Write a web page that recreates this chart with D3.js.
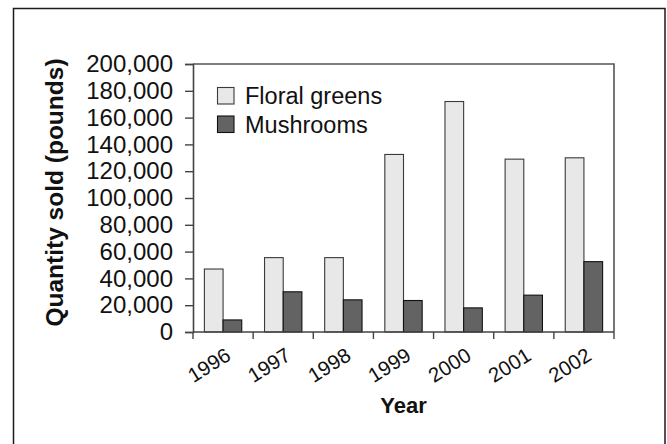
<!DOCTYPE html>
<html>
<head>
<meta charset="utf-8">
<script src="https://cdn.jsdelivr.net/npm/d3@7"></script>
<style>
  html, body { margin: 0; padding: 0; background: #fff; }
  svg { display: block; }
  text { font-family: "Liberation Sans", Arial, sans-serif; fill: #111; }
</style>
</head>
<body>
<svg id="chart" width="667" height="444"></svg>
<script>
const years = ["1996", "1997", "1998", "1999", "2000", "2001", "2002"];
const seriesNames = ["Floral greens", "Mushrooms"];
const floralGreens = [47000, 55500, 55500, 132500, 172000, 129000, 130000];
const mushrooms = [9000, 30000, 24000, 23500, 18000, 27500, 52500];
const yTicks = [0, 20000, 40000, 60000, 80000, 100000, 120000, 140000, 160000, 180000, 200000];
const fills = ["#e8e8e8", "#636363"];
const strokes = ["#3a3a3a", "#111111"];

const svg = d3.select("#chart");
const plot = { left: 193, right: 614, top: 64, bottom: 332 };

// outer frame
svg.append("rect")
  .attr("x", 13.5).attr("y", 8.5)
  .attr("width", 651.5).attr("height", 460)
  .attr("fill", "none").attr("stroke", "#1a1a1a").attr("stroke-width", 1.5);

const x0 = d3.scaleBand().domain(years).range([plot.left, plot.right]).padding(0);
const x1 = d3.scaleBand().domain(seriesNames).range([0, x0.bandwidth()])
  .paddingInner(0).paddingOuter(0.61);
const y = d3.scaleLinear().domain([0, 200000]).range([plot.bottom, plot.top]);

const data = years.map((yr, i) => ({ year: yr, values: [floralGreens[i], mushrooms[i]] }));

// plot box (top and right)
svg.append("path")
  .attr("d", `M${plot.left},${plot.top}H${plot.right}V${plot.bottom}`)
  .attr("fill", "none").attr("stroke", "#555").attr("stroke-width", 1.6);

// bars
const groups = svg.append("g").selectAll("g").data(data).join("g")
  .attr("transform", d => `translate(${x0(d.year)},0)`);
groups.selectAll("rect")
  .data(d => d.values.map((v, k) => ({ name: seriesNames[k], value: v, k })))
  .join("rect")
  .attr("x", d => x1(d.name))
  .attr("y", d => y(d.value))
  .attr("width", x1.bandwidth())
  .attr("height", d => plot.bottom - y(d.value))
  .attr("fill", d => fills[d.k])
  .attr("stroke", d => strokes[d.k])
  .attr("stroke-width", 1.1);

// y axis
const yAxis = d3.axisLeft(y).tickValues(yTicks).tickSize(8).tickPadding(12)
  .tickFormat(d3.format(","));
const yg = svg.append("g").attr("transform", `translate(${plot.left},0)`).call(yAxis);
yg.select(".domain").attr("stroke", "#444").attr("stroke-width", 1.6);
yg.selectAll(".tick line").attr("stroke", "#444").attr("stroke-width", 1.4);
yg.selectAll(".tick text")
  .attr("font-size", 24)
  .style("font-family", '"Liberation Sans", Arial, sans-serif')
  .attr("fill", "#111");

// x axis: ticks at band boundaries
const boundaries = years.map(yr => x0(yr)).concat([plot.right]);
const xg = svg.append("g");
xg.append("line")
  .attr("x1", plot.left).attr("x2", plot.right)
  .attr("y1", plot.bottom).attr("y2", plot.bottom)
  .attr("stroke", "#444").attr("stroke-width", 1.6);
xg.selectAll("line.tk").data(boundaries).join("line")
  .attr("class", "tk")
  .attr("x1", d => d).attr("x2", d => d)
  .attr("y1", plot.bottom).attr("y2", plot.bottom + 7)
  .attr("stroke", "#444").attr("stroke-width", 1.4);
xg.selectAll("text").data(years).join("text")
  .attr("transform", d => `translate(${x0(d) + x0.bandwidth() / 2 + 9},${plot.bottom + 27}) rotate(-32)`)
  .attr("text-anchor", "end")
  .attr("font-size", 20.5)
  .text(d => d);

// axis titles
svg.append("text")
  .attr("x", (plot.left + plot.right) / 2).attr("y", 413)
  .attr("text-anchor", "middle")
  .attr("font-size", 22).attr("font-weight", "bold")
  .text("Year");
svg.append("text")
  .attr("transform", "translate(62.5,192.5) rotate(-90)")
  .attr("text-anchor", "middle")
  .attr("font-size", 24.5).attr("font-weight", "bold")
  .text("Quantity sold (pounds)");

// legend
const legend = svg.append("g").selectAll("g").data(seriesNames).join("g")
  .attr("transform", (d, i) => `translate(217.5,${87.5 + i * 28.5})`);
legend.append("rect")
  .attr("width", 16.5).attr("height", 16.5)
  .attr("fill", (d, i) => fills[i])
  .attr("stroke", (d, i) => strokes[i]).attr("stroke-width", 1.1);
legend.append("text")
  .attr("x", 27.5).attr("y", 16.8)
  .attr("font-size", 23.5)
  .text(d => d);
</script>
</body>
</html>
